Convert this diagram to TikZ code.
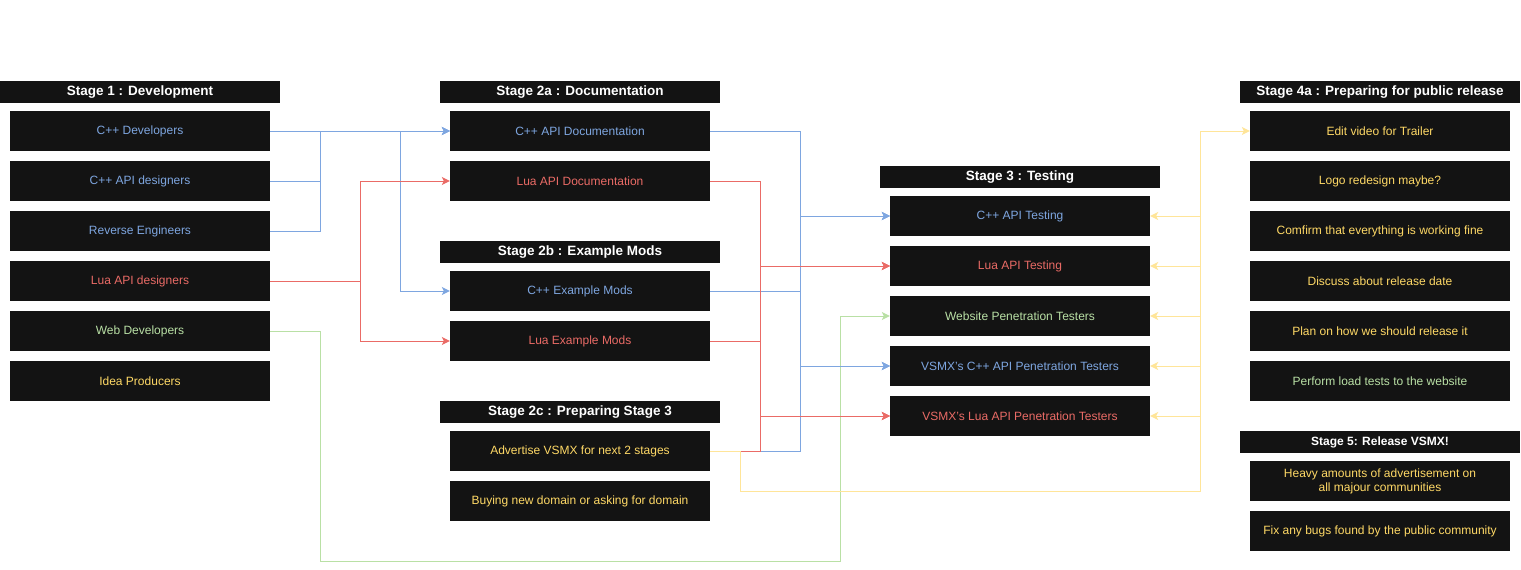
\documentclass[tikz,border=0pt]{standalone}
\usepackage{fontspec}
\setmainfont{Liberation Sans}
\usetikzlibrary{arrows.meta}

\definecolor{boxbg}{HTML}{131313}
\definecolor{cppblue}{HTML}{7EA6E0}
\definecolor{luared}{HTML}{EA6B66}
\definecolor{webgreen}{HTML}{B9E0A5}
\definecolor{ideayellow}{HTML}{FFD966}
\definecolor{idealight}{HTML}{FFE599}

\begin{document}
\begin{tikzpicture}[x=1pt,y=-1pt,
    stagehead/.style={fill=boxbg, text=white, minimum width=280pt, minimum height=22pt, inner sep=0pt, font=\fontsize{13.5}{15}\selectfont\bfseries},
    card/.style={fill=boxbg, minimum width=260pt, minimum height=40pt, inner sep=0pt, align=center, font=\fontsize{12}{14}\selectfont},
    link/.style={line width=1pt, -{Stealth[length=8pt,width=8pt,inset=2pt]}},
    cppline/.style={link, draw=cppblue},
    lualine/.style={link, draw=luared},
    webline/.style={link, draw=webgreen},
    idealine/.style={link, draw=idealight}]
        \useasboundingbox (0,0) rectangle (1521,570);

        %Stage 1
        \node[stagehead] (s1) at (140,92) {Stage 1 : Development};
        \node[card, text=cppblue] (cppdev) at (140,131) {C++ Developers};
        \node[card, text=cppblue] (cppapi) at (140,181) {C++ API designers};
        \node[card, text=cppblue] (reveng) at (140,231) {Reverse Engineers};
        \node[card, text=luared] (luaapi) at (140,281) {Lua API designers};
        \node[card, text=webgreen] (webdev) at (140,331) {Web Developers};
        \node[card, text=ideayellow] (idea) at (140,381) {Idea Producers};

        %Stage 2
        \node[stagehead] (s2a) at (580,92) {Stage 2a : Documentation};
        \node[card, text=cppblue] (cppdoc) at (580,131) {C++ API Documentation};
        \node[card, text=luared] (luadoc) at (580,181) {Lua API Documentation};

        \node[stagehead] (s2b) at (580,252) {Stage 2b : Example Mods};
        \node[card, text=cppblue] (cppmod) at (580,291) {C++ Example Mods};
        \node[card, text=luared] (luamod) at (580,341) {Lua Example Mods};

        \node[stagehead] (s2c) at (580,412) {Stage 2c : Preparing Stage 3};
        \node[card, text=ideayellow] (advert) at (580,451) {Advertise VSMX for next 2 stages};
        \node[card, text=ideayellow] (domain) at (580,501) {Buying new domain or asking for domain};

        %Stage 3
        \node[stagehead] (s3) at (1020,177) {Stage 3 : Testing};
        \node[card, text=cppblue] (cpptest) at (1020,216) {C++ API Testing};
        \node[card, text=luared] (luatest) at (1020,266) {Lua API Testing};
        \node[card, text=webgreen] (webpen) at (1020,316) {Website Penetration Testers};
        \node[card, text=cppblue] (cpppen) at (1020,366) {VSMX's C++ API Penetration Testers};
        \node[card, text=luared] (luapen) at (1020,416) {VSMX's Lua API Penetration Testers};

        %Stage 4 und 5
        \node[stagehead] (s4a) at (1380,92) {Stage 4a : Preparing for public release};
        \node[card, text=ideayellow] (trailer) at (1380,131) {Edit video for Trailer};
        \node[card, text=ideayellow] (logo) at (1380,181) {Logo redesign maybe?};
        \node[card, text=ideayellow] (confirm) at (1380,231) {Comfirm that everything is working fine};
        \node[card, text=ideayellow] (discuss) at (1380,281) {Discuss about release date};
        \node[card, text=ideayellow] (plan) at (1380,331) {Plan on how we should release it};
        \node[card, text=webgreen] (load) at (1380,381) {Perform load tests to the website};

        \node[stagehead, font=\fontsize{12}{14}\selectfont\bfseries] (s5) at (1380,442) {Stage 5: Release VSMX!};
        \node[card, text=ideayellow] (heavy) at (1380,481) {Heavy amounts of advertisement on\\all majour communities};
        \node[card, text=ideayellow] (bugs) at (1380,531) {Fix any bugs found by the public community};

        %Pfeile 1 -> 2
        \draw[cppline] (cppdev.east) -- (cppdoc.west);
        \draw[cppline] (cppapi.east) -- ++(50,0) |- (cppdoc.west);
        \draw[cppline] (reveng.east) -- ++(50,0) |- (cppdoc.west);
        \draw[cppline] (cppdev.east) -- ++(130,0) |- (cppmod.west);
        \draw[lualine] (luaapi.east) -- ++(90,0) |- (luadoc.west);
        \draw[lualine] (luaapi.east) -- ++(90,0) |- (luamod.west);
        \draw[webline] (webdev.east) -- ++(50,0) -- ++(0,230) -- ++(520,0) |- (webpen.west);

        %Pfeile 2 -> 3
        \draw[cppline] (cppdoc.east) -- ++(90,0) |- (cpptest.west);
        \draw[cppline] (cppdoc.east) -- ++(90,0) |- (cpppen.west);
        \draw[cppline] (cppmod.east) -- ++(90,0) |- (cpptest.west);
        \draw[cppline] (cppmod.east) -- ++(90,0) |- (cpppen.west);
        \draw[cppline] (advert.east) -- ++(90,0) |- (cpptest.west);
        \draw[cppline] (advert.east) -- ++(90,0) |- (cpppen.west);
        \draw[lualine] (luadoc.east) -- ++(50,0) |- (luatest.west);
        \draw[lualine] (luadoc.east) -- ++(50,0) |- (luapen.west);
        \draw[lualine] (luamod.east) -- ++(50,0) |- (luatest.west);
        \draw[lualine] (luamod.east) -- ++(50,0) |- (luapen.west);
        \draw[lualine] (advert.east) -- ++(50,0) |- (luatest.west);
        \draw[lualine] (advert.east) -- ++(50,0) |- (luapen.west);

        %Pfeile 2c -> 3, 4
        \draw[idealine] (advert.east) -- ++(30,0) -- ++(0,40) -- ++(460,0) |- (trailer.west);
        \draw[idealine] (advert.east) -- ++(30,0) -- ++(0,40) -- ++(460,0) |- (cpptest.east);
        \draw[idealine] (advert.east) -- ++(30,0) -- ++(0,40) -- ++(460,0) |- (luatest.east);
        \draw[idealine] (advert.east) -- ++(30,0) -- ++(0,40) -- ++(460,0) |- (webpen.east);
        \draw[idealine] (advert.east) -- ++(30,0) -- ++(0,40) -- ++(460,0) |- (cpppen.east);
        \draw[idealine] (advert.east) -- ++(30,0) -- ++(0,40) -- ++(460,0) |- (luapen.east);
    \end{tikzpicture}
\end{document}
